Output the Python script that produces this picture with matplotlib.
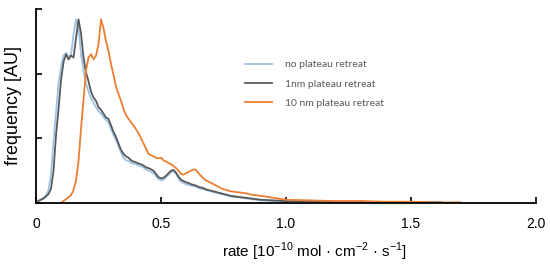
import matplotlib.pyplot as plt

plt.rcParams['font.family'] = ['Liberation Sans', 'DejaVu Sans']
plt.rcParams['mathtext.fontset'] = 'custom'
plt.rcParams['mathtext.rm'] = 'Liberation Sans'

# rate values (10^-10 mol cm^-2 s^-1) and frequencies
rate_a = [0.00, 0.01, 0.02, 0.03, 0.04, 0.05, 0.06, 0.07, 0.08, 0.09,
          0.10, 0.11, 0.12, 0.13, 0.14, 0.15, 0.16, 0.17, 0.18, 0.19,
          0.20, 0.21, 0.22, 0.23, 0.24, 0.25, 0.26, 0.27, 0.28, 0.29,
          0.30, 0.31, 0.32, 0.33, 0.34, 0.35, 0.36, 0.37, 0.38, 0.39,
          0.40, 0.41, 0.42, 0.43, 0.44, 0.45, 0.46, 0.47, 0.48, 0.49,
          0.50, 0.51, 0.52, 0.53, 0.54, 0.55, 0.56, 0.57, 0.58, 0.59,
          0.60, 0.61, 0.62, 0.63, 0.64, 0.65, 0.66, 0.67, 0.68, 0.69,
          0.70, 0.72, 0.74, 0.76, 0.78, 0.80, 0.82, 0.84, 0.86, 0.88,
          0.90, 0.95, 1.00, 1.10, 1.20, 1.30, 1.40, 1.50, 1.62]

no_plateau = [0.00, 0.04, 0.06, 0.08, 0.12, 0.20, 0.45, 0.95, 1.40, 1.85,
              2.10, 2.28, 2.32, 2.26, 2.30, 2.60, 2.84, 2.70, 2.30, 2.05,
              1.85, 1.72, 1.62, 1.55, 1.48, 1.42, 1.38, 1.33, 1.28, 1.24,
              1.14, 1.05, 0.97, 0.88, 0.78, 0.70, 0.66, 0.65, 0.62, 0.61,
              0.60, 0.58, 0.57, 0.55, 0.52, 0.50, 0.48, 0.46, 0.41, 0.37,
              0.35, 0.36, 0.40, 0.44, 0.48, 0.49, 0.45, 0.38, 0.33, 0.31,
              0.29, 0.28, 0.27, 0.26, 0.25, 0.23, 0.22, 0.21, 0.20, 0.19,
              0.18, 0.16, 0.14, 0.12, 0.10, 0.09, 0.08, 0.07, 0.06, 0.05,
              0.04, 0.03, 0.03, 0.02, 0.02, 0.02, 0.01, 0.01, 0.01]

plateau_1nm = [0.00, 0.03, 0.05, 0.07, 0.10, 0.14, 0.22, 0.50, 1.05, 1.45,
               1.90, 2.18, 2.30, 2.22, 2.28, 2.25, 2.55, 2.84, 2.62, 2.25,
               2.02, 1.88, 1.72, 1.63, 1.58, 1.48, 1.44, 1.38, 1.32, 1.30,
               1.20, 1.10, 1.02, 0.92, 0.82, 0.76, 0.72, 0.70, 0.66, 0.64,
               0.63, 0.61, 0.60, 0.58, 0.55, 0.54, 0.52, 0.50, 0.45, 0.40,
               0.38, 0.39, 0.42, 0.46, 0.50, 0.51, 0.47, 0.41, 0.36, 0.34,
               0.32, 0.31, 0.29, 0.28, 0.27, 0.25, 0.24, 0.23, 0.21, 0.20,
               0.19, 0.17, 0.15, 0.13, 0.11, 0.10, 0.09, 0.08, 0.07, 0.06,
               0.05, 0.04, 0.03, 0.03, 0.02, 0.02, 0.01, 0.01, 0.01]

rate_b = [0.10, 0.11, 0.12, 0.13, 0.14, 0.15, 0.16, 0.17, 0.18, 0.19,
          0.20, 0.21, 0.22, 0.23, 0.24, 0.25, 0.26, 0.27, 0.28, 0.29,
          0.30, 0.31, 0.32, 0.33, 0.34, 0.35, 0.36, 0.37, 0.38, 0.39,
          0.40, 0.41, 0.42, 0.43, 0.44, 0.45, 0.46, 0.47, 0.48, 0.49,
          0.50, 0.51, 0.52, 0.53, 0.54, 0.55, 0.56, 0.57, 0.58, 0.59,
          0.60, 0.61, 0.62, 0.63, 0.64, 0.65, 0.66, 0.67, 0.68, 0.69,
          0.70, 0.72, 0.74, 0.76, 0.78, 0.80, 0.82, 0.84, 0.86, 0.88,
          0.90, 0.92, 0.95, 1.00, 1.10, 1.20, 1.30, 1.40, 1.50, 1.60, 1.70]

plateau_10nm = [0.00, 0.03, 0.06, 0.09, 0.12, 0.20, 0.35, 0.65, 1.15, 1.60,
                2.05, 2.25, 2.30, 2.22, 2.28, 2.45, 2.84, 2.70, 2.50, 2.35,
                2.15, 1.98, 1.80, 1.68, 1.58, 1.45, 1.36, 1.30, 1.25, 1.20,
                1.14, 1.08, 1.00, 0.92, 0.84, 0.76, 0.74, 0.72, 0.70, 0.69,
                0.70, 0.66, 0.64, 0.62, 0.60, 0.57, 0.54, 0.50, 0.45, 0.44,
                0.46, 0.48, 0.50, 0.52, 0.51, 0.46, 0.42, 0.38, 0.35, 0.33,
                0.31, 0.27, 0.23, 0.20, 0.18, 0.17, 0.16, 0.15, 0.13, 0.12,
                0.11, 0.10, 0.08, 0.05, 0.04, 0.03, 0.03, 0.02, 0.02, 0.01, 0.01]

labels = ['no plateau retreat', '1nm plateau retreat', '10 nm plateau retreat']
colors = ['#9DC3E6', '#595959', '#ED7D31']

fig = plt.figure(figsize=(5.5, 2.67), dpi=100)
ax = fig.add_axes([0.0655, 0.2397, 0.909, 0.7266])

ax.plot(rate_a, no_plateau, color=colors[0], lw=1.3, label=labels[0])
ax.plot(rate_a, plateau_1nm, color=colors[1], lw=1.3, label=labels[1])
ax.plot(rate_b, plateau_10nm, color=colors[2], lw=1.3, label=labels[2])

ax.set_xlim(0, 2.0)
ax.set_ylim(0, 3)
ax.set_xticks([0, 0.5, 1.0, 1.5, 2.0])
ax.set_xticklabels(['0', '0.5', '1.0', '1.5', '2.0'])
ax.set_yticks([0, 1, 2, 3])
ax.set_yticklabels([])
ax.tick_params(direction='in', length=4, width=1.2, labelsize=10, pad=10)
for s in ['top', 'right']:
    ax.spines[s].set_visible(False)
for s in ['left', 'bottom']:
    ax.spines[s].set_linewidth(1.3)

ax.set_xlabel('rate [10$^{-10}$ mol · cm$^{-2}$ · s$^{-1}$]', fontsize=11, labelpad=7, x=0.556)
ax.set_ylabel('frequency [AU]', fontsize=13, labelpad=0)

leg = ax.legend(loc='upper left', bbox_to_anchor=(0.40, 0.785), frameon=False,
                prop={'family': 'Lato', 'size': 7.5}, handlelength=2.6,
                handletextpad=1.2, labelspacing=0.95, labelcolor='#595959')

fig.savefig('out.png', dpi=100)
